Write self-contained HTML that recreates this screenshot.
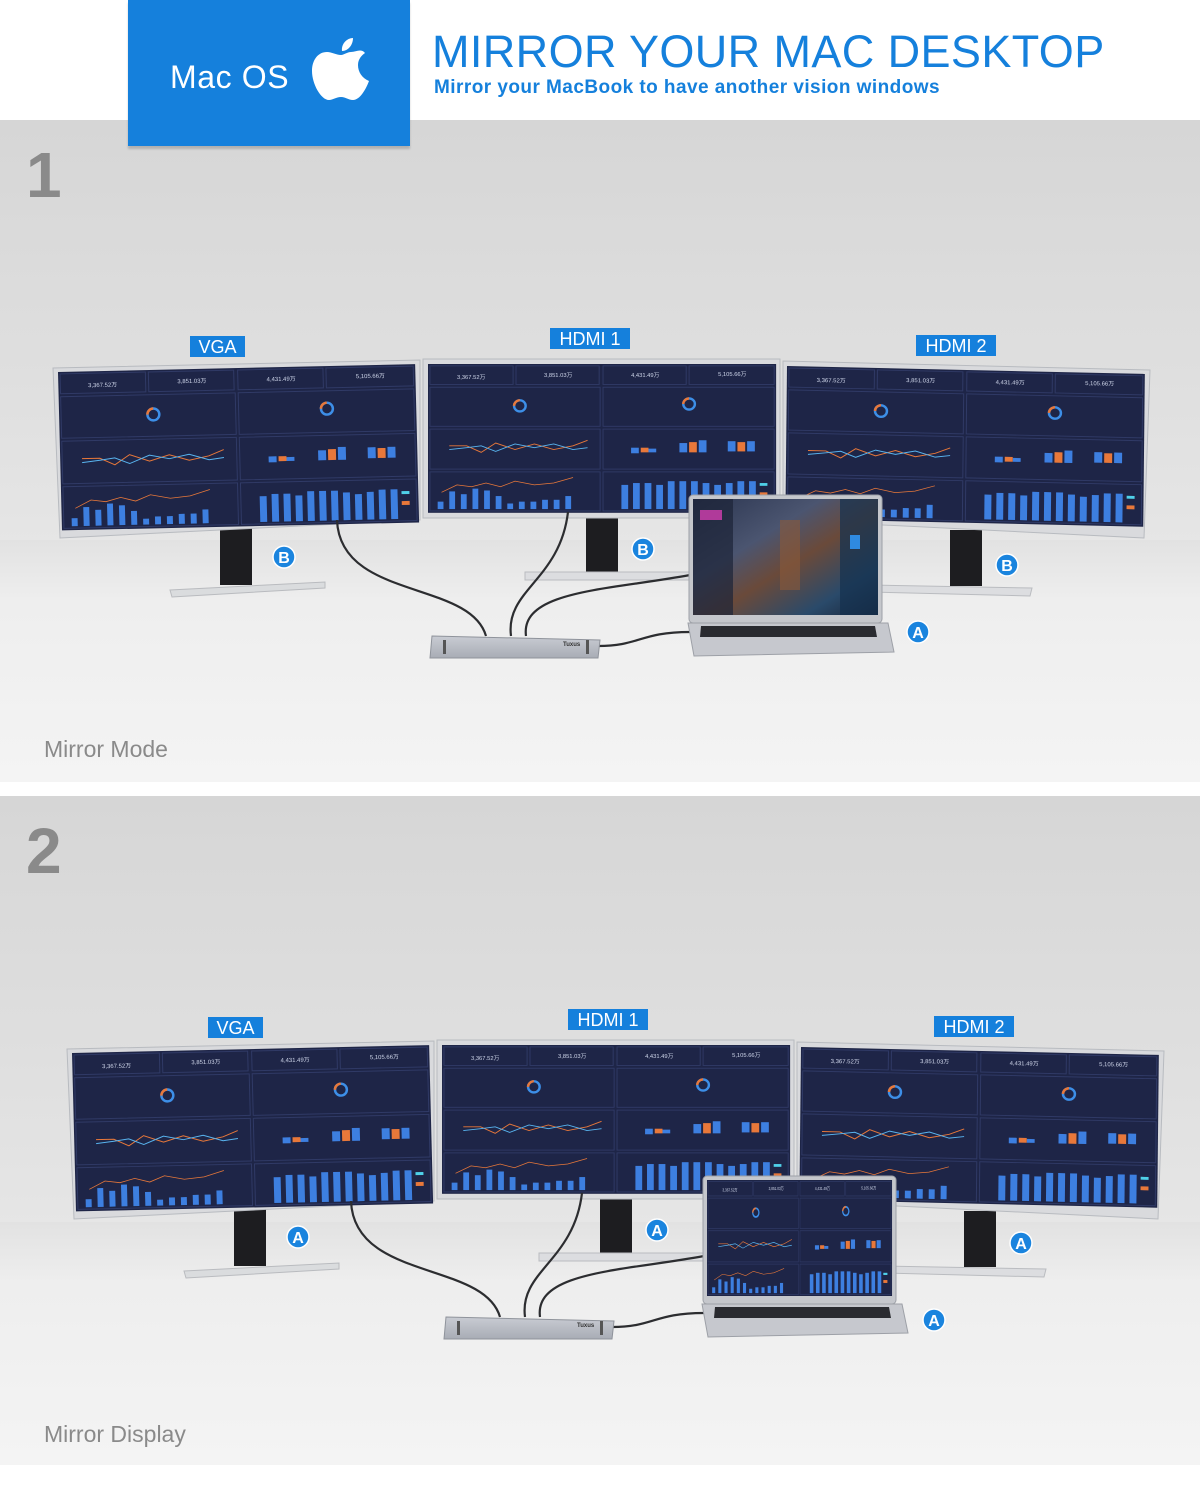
<!DOCTYPE html>
<html><head><meta charset="utf-8"><style>
html,body{margin:0;padding:0;background:#fff}
body{width:1200px;height:1500px;position:relative;overflow:hidden;font-family:"Liberation Sans",sans-serif}
.panel{position:absolute;left:0;width:1200px}
#blue{position:absolute;left:128px;top:0;width:282px;height:146px;background:#1580dc;box-shadow:0 3px 2px rgba(0,0,0,.18);z-index:5}
#blue .t{position:absolute;left:42px;top:59px;color:#fff;font-size:32px;letter-spacing:.6px}
#title{position:absolute;left:432px;top:26px;color:#1580dc;font-size:45px;letter-spacing:.4px;white-space:nowrap}
#sub{position:absolute;left:434px;top:77px;color:#1580dc;font-size:19px;letter-spacing:.45px;font-weight:bold;white-space:nowrap}
</style></head><body>
<div id="blue"><div class="t">Mac OS</div>
<svg style="position:absolute;left:184px;top:36px" width="58" height="66" viewBox="0 0 58 66">
<path d="M41 2 C41 9 36 15 30 15 C29 8 35 2 41 2Z" fill="#fff"/>
<path d="M29 19 C24 19 20 16 15 16 C6 16 0 24 0 35 C0 48 9 64 17 64 C21 64 24 61 29 61 C34 61 36 64 41 64 C48 64 54 53 57 45 C50 42 46 36 46 29 C46 23 50 19 53 17 C49 12 44 16 39 16 C35 16 32 19 29 19Z" fill="#fff"/>
</svg></div>
<div id="title">MIRROR YOUR MAC DESKTOP</div>
<div id="sub">Mirror your MacBook to have another vision windows</div>

<svg width="0" height="0" style="position:absolute">
<defs>
<linearGradient id="wall" x1="0" y1="0" x2="0" y2="1">
<stop offset="0" stop-color="#d6d6d6"/><stop offset=".6" stop-color="#dfdfdf"/><stop offset="1" stop-color="#e6e6e6"/></linearGradient>
<linearGradient id="floor" x1="0" y1="0" x2="0" y2="1">
<stop offset="0" stop-color="#e2e2e2"/><stop offset=".25" stop-color="#eeeeee"/><stop offset="1" stop-color="#f4f4f4"/></linearGradient>
<linearGradient id="silver" x1="0" y1="0" x2="0" y2="1">
<stop offset="0" stop-color="#c9ccd3"/><stop offset="1" stop-color="#a8acb5"/></linearGradient>
<linearGradient id="art" x1="0" y1="0" x2="1" y2="1">
<stop offset="0" stop-color="#2b3550"/><stop offset=".35" stop-color="#4b5570"/><stop offset=".55" stop-color="#6a4a3a"/><stop offset=".8" stop-color="#2a4a6a"/><stop offset="1" stop-color="#1a2438"/></linearGradient>
<g id="dash">
<rect width="360" height="160" fill="#1e2547"/>
<g fill="none" stroke="#303a66" stroke-width="1">
<rect x="2" y="2" width="86" height="20"/><rect x="91" y="2" width="86" height="20"/><rect x="181" y="2" width="86" height="20"/><rect x="270" y="2" width="88" height="20"/>
<rect x="2" y="25" width="176" height="42"/><rect x="181" y="25" width="177" height="42"/>
<rect x="2" y="70" width="176" height="43"/><rect x="181" y="70" width="177" height="43"/>
<rect x="2" y="116" width="176" height="42"/><rect x="181" y="116" width="177" height="42"/>
</g>
<g fill="#cfd6ea" font-size="6" font-family="Liberation Sans,sans-serif"><text x="30" y="16">3,367.52万</text><text x="120" y="14">3,851.03万</text><text x="210" y="14">4,431.49万</text><text x="300" y="13">5,105.66万</text></g>
<circle cx="95" cy="45" r="6" fill="none" stroke="#3d8fe8" stroke-width="2.5"/><path d="M95 39 A6 6 0 0 0 89 45" fill="none" stroke="#e8783a" stroke-width="2.5"/>
<circle cx="270" cy="43" r="6" fill="none" stroke="#3d8fe8" stroke-width="2.5"/><path d="M270 37 A6 6 0 0 0 264 43" fill="none" stroke="#e8783a" stroke-width="2.5"/>
<polyline points="22,88 40,88 55,95 70,85 90,92 110,86 130,92 150,88 165,82" fill="none" stroke="#e8783a" stroke-width="1"/>
<polyline points="22,92 40,90 55,88 70,94 90,86 110,90 130,86 150,92 165,90" fill="none" stroke="#59b5f0" stroke-width="1"/>
<g fill="#3d7fe0"><rect x="210" y="90" width="8" height="6"/><rect x="228" y="91" width="8" height="4"/><rect x="260" y="85" width="8" height="10"/><rect x="280" y="82" width="8" height="13"/><rect x="310" y="83" width="8" height="11"/><rect x="330" y="83" width="8" height="11"/>
<rect x="10" y="148" width="6" height="8"/><rect x="22" y="137" width="6" height="19"/><rect x="34" y="140" width="6" height="16"/><rect x="46" y="134" width="6" height="22"/><rect x="58" y="136" width="6" height="20"/><rect x="70" y="142" width="6" height="14"/><rect x="82" y="150" width="6" height="6"/><rect x="94" y="148" width="6" height="8"/><rect x="106" y="148" width="6" height="8"/><rect x="118" y="146" width="6" height="10"/><rect x="130" y="146" width="6" height="10"/><rect x="142" y="142" width="6" height="14"/>
<rect x="200" y="130" width="7" height="26"/><rect x="212" y="128" width="7" height="28"/><rect x="224" y="128" width="7" height="28"/><rect x="236" y="130" width="7" height="26"/><rect x="248" y="126" width="7" height="30"/><rect x="260" y="126" width="7" height="30"/><rect x="272" y="126" width="7" height="30"/><rect x="284" y="128" width="7" height="28"/><rect x="296" y="130" width="7" height="26"/><rect x="308" y="128" width="7" height="28"/><rect x="320" y="126" width="7" height="30"/><rect x="332" y="126" width="7" height="30"/></g>
<g fill="#e8783a"><rect x="220" y="90" width="8" height="5"/><rect x="270" y="84" width="8" height="11"/><rect x="320" y="84" width="8" height="10"/><rect x="343" y="138" width="8" height="4"/></g>
<rect x="343" y="128" width="8" height="3" fill="#4fd0e8"/>
<polyline points="14,138 30,130 45,132 60,128 75,132 90,126 110,130 130,128 150,122" fill="none" stroke="#e8783a" stroke-width="0.8"/>
</g>
</defs></svg>

<!-- PANEL 1 -->
<svg class="panel" style="top:120px" width="1200" height="662" viewBox="0 120 1200 662">
<rect x="0" y="120" width="1200" height="430" fill="url(#wall)"/>
<rect x="0" y="540" width="1200" height="242" fill="url(#floor)"/>
<g>
<rect x="220" y="525" width="32" height="60" fill="#1d1d20"/>
<path d="M170 590 L325 582 L325 588 L172 597Z" fill="#dadcde" stroke="#b9bbbf"/>
<rect x="586" y="512" width="32" height="62" fill="#1d1d20"/>
<path d="M525 572 L690 572 L690 580 L525 580Z" fill="#dcdde0" stroke="#babcc0"/>
<rect x="950" y="530" width="32" height="56" fill="#1d1d20"/>
<path d="M870 585 L1032 588 L1030 596 L870 592Z" fill="#dcdde0" stroke="#babcc0"/>
<path d="M53 368 L420 360 L420 520 L60 538Z" fill="#d9dadd" stroke="#b8bbc0"/>
<use href="#dash" transform="matrix(0.992,-0.022,0.025,0.99,58,372)"/>
<rect x="423" y="359" width="357" height="159" fill="#d9dadd" stroke="#b8bbc0"/>
<use href="#dash" transform="matrix(0.967,0,0,0.93,428,364)"/>
<path d="M783 361 L1150 370 L1144 538 L783 520Z" fill="#d9dadd" stroke="#b8bbc0"/>
<use href="#dash" transform="matrix(0.994,0.022,-0.01,0.955,787,366)"/>
<g fill="none" stroke="#2c2d30" stroke-width="2.2">
<path d="M337 520 C340 600 470 580 486 636"/>
<path d="M568 512 C560 580 505 590 511 636"/>
<path d="M690 575 C610 590 520 590 526 636"/>
<path d="M598 646 C640 646 640 632 690 632"/>
</g>
<path d="M432 636 L600 640 L598 658 L430 658Z" fill="url(#silver)" stroke="#8f939b"/>
<rect x="443" y="640" width="3" height="14" fill="#555"/><rect x="586" y="640" width="3" height="14" fill="#555"/>
<text x="563" y="646" font-size="6" font-weight="bold" fill="#333">Tuxus</text>
<rect x="689" y="495" width="193" height="128" rx="4" fill="#c5c7cc" stroke="#9da0a7"/>
<rect x="693" y="499" width="185" height="116" fill="url(#art)"/>
<rect x="693" y="499" width="40" height="116" fill="#1c2438" opacity=".7"/>
<rect x="840" y="499" width="38" height="116" fill="#14304e" opacity=".7"/>
<rect x="780" y="520" width="20" height="70" fill="#8a5a3a" opacity=".6"/>
<rect x="700" y="510" width="22" height="10" fill="#b03a9a"/>
<rect x="850" y="535" width="10" height="14" fill="#2f8ae0"/>
<path d="M688 623 L888 623 L894 652 L694 656Z" fill="#c6c8ce" stroke="#9da0a7"/>
<path d="M701 626 L875 626 L877 637 L700 637Z" fill="#2a2b30"/>
<g font-family="Liberation Sans,sans-serif" font-size="18" fill="#fff" text-anchor="middle">
<rect x="190" y="336" width="55" height="21" fill="#1580dc"/><text x="217.5" y="353">VGA</text>
<rect x="550" y="328" width="80" height="21" fill="#1580dc"/><text x="590" y="345">HDMI 1</text>
<rect x="916" y="335" width="80" height="21" fill="#1580dc"/><text x="956" y="352">HDMI 2</text>
</g>
<g font-family="Liberation Sans,sans-serif" font-size="16" font-weight="bold" fill="#fff" text-anchor="middle">
<circle cx="284" cy="557" r="11" fill="#1a84de" stroke="#fff" stroke-width="1.5"/><text x="284" y="563">B</text>
<circle cx="643" cy="549" r="11" fill="#1a84de" stroke="#fff" stroke-width="1.5"/><text x="643" y="555">B</text>
<circle cx="1007" cy="565" r="11" fill="#1a84de" stroke="#fff" stroke-width="1.5"/><text x="1007" y="571">B</text>
<circle cx="918" cy="632" r="11" fill="#1a84de" stroke="#fff" stroke-width="1.5"/><text x="918" y="638">A</text>
</g>
<text x="26" y="197" font-size="64" font-weight="bold" fill="#8a8a8a" font-family="Liberation Sans,sans-serif">1</text>
</g>
<text x="44" y="757" font-size="23" fill="#8a8a8a" font-family="Liberation Sans,sans-serif">Mirror Mode</text>
</svg>

<!-- PANEL 2 -->
<svg class="panel" style="top:796px" width="1200" height="669" viewBox="0 120 1200 669">
<rect x="0" y="120" width="1200" height="436" fill="url(#wall)"/>
<rect x="0" y="546" width="1200" height="243" fill="url(#floor)"/>
<g transform="translate(14,5)">
<rect x="220" y="525" width="32" height="60" fill="#1d1d20"/>
<path d="M170 590 L325 582 L325 588 L172 597Z" fill="#dadcde" stroke="#b9bbbf"/>
<rect x="586" y="512" width="32" height="62" fill="#1d1d20"/>
<path d="M525 572 L690 572 L690 580 L525 580Z" fill="#dcdde0" stroke="#babcc0"/>
<rect x="950" y="530" width="32" height="56" fill="#1d1d20"/>
<path d="M870 585 L1032 588 L1030 596 L870 592Z" fill="#dcdde0" stroke="#babcc0"/>
<path d="M53 368 L420 360 L420 520 L60 538Z" fill="#d9dadd" stroke="#b8bbc0"/>
<use href="#dash" transform="matrix(0.992,-0.022,0.025,0.99,58,372)"/>
<rect x="423" y="359" width="357" height="159" fill="#d9dadd" stroke="#b8bbc0"/>
<use href="#dash" transform="matrix(0.967,0,0,0.93,428,364)"/>
<path d="M783 361 L1150 370 L1144 538 L783 520Z" fill="#d9dadd" stroke="#b8bbc0"/>
<use href="#dash" transform="matrix(0.994,0.022,-0.01,0.955,787,366)"/>
<g fill="none" stroke="#2c2d30" stroke-width="2.2">
<path d="M337 520 C340 600 470 580 486 636"/>
<path d="M568 512 C560 580 505 590 511 636"/>
<path d="M690 575 C610 590 520 590 526 636"/>
<path d="M598 646 C640 646 640 632 690 632"/>
</g>
<path d="M432 636 L600 640 L598 658 L430 658Z" fill="url(#silver)" stroke="#8f939b"/>
<rect x="443" y="640" width="3" height="14" fill="#555"/><rect x="586" y="640" width="3" height="14" fill="#555"/>
<text x="563" y="646" font-size="6" font-weight="bold" fill="#333">Tuxus</text>
<rect x="689" y="495" width="193" height="128" rx="4" fill="#c5c7cc" stroke="#9da0a7"/>
<rect x="693" y="499" width="185" height="116" fill="#1e2547"/>
<use href="#dash" transform="matrix(0.514,0,0,0.725,693,499)"/>
<path d="M688 623 L888 623 L894 652 L694 656Z" fill="#c6c8ce" stroke="#9da0a7"/>
<path d="M701 626 L875 626 L877 637 L700 637Z" fill="#2a2b30"/>
<g font-family="Liberation Sans,sans-serif" font-size="18" fill="#fff" text-anchor="middle">
<rect x="194" y="336" width="55" height="21" fill="#1580dc"/><text x="221.5" y="353">VGA</text>
<rect x="554" y="328" width="80" height="21" fill="#1580dc"/><text x="594" y="345">HDMI 1</text>
<rect x="920" y="335" width="80" height="21" fill="#1580dc"/><text x="960" y="352">HDMI 2</text>
</g>
<g font-family="Liberation Sans,sans-serif" font-size="16" font-weight="bold" fill="#fff" text-anchor="middle">
<circle cx="284" cy="556" r="11" fill="#1a84de" stroke="#fff" stroke-width="1.5"/><text x="284" y="562">A</text>
<circle cx="643" cy="549" r="11" fill="#1a84de" stroke="#fff" stroke-width="1.5"/><text x="643" y="555">A</text>
<circle cx="1007" cy="562" r="11" fill="#1a84de" stroke="#fff" stroke-width="1.5"/><text x="1007" y="568">A</text>
<circle cx="920" cy="639" r="11" fill="#1a84de" stroke="#fff" stroke-width="1.5"/><text x="920" y="645">A</text>
</g>
<text x="12" y="192" font-size="64" font-weight="bold" fill="#8a8a8a" font-family="Liberation Sans,sans-serif">2</text>
</g>
<text x="44" y="766" font-size="23" fill="#8a8a8a" font-family="Liberation Sans,sans-serif">Mirror Display</text>
</svg>
</body></html>
